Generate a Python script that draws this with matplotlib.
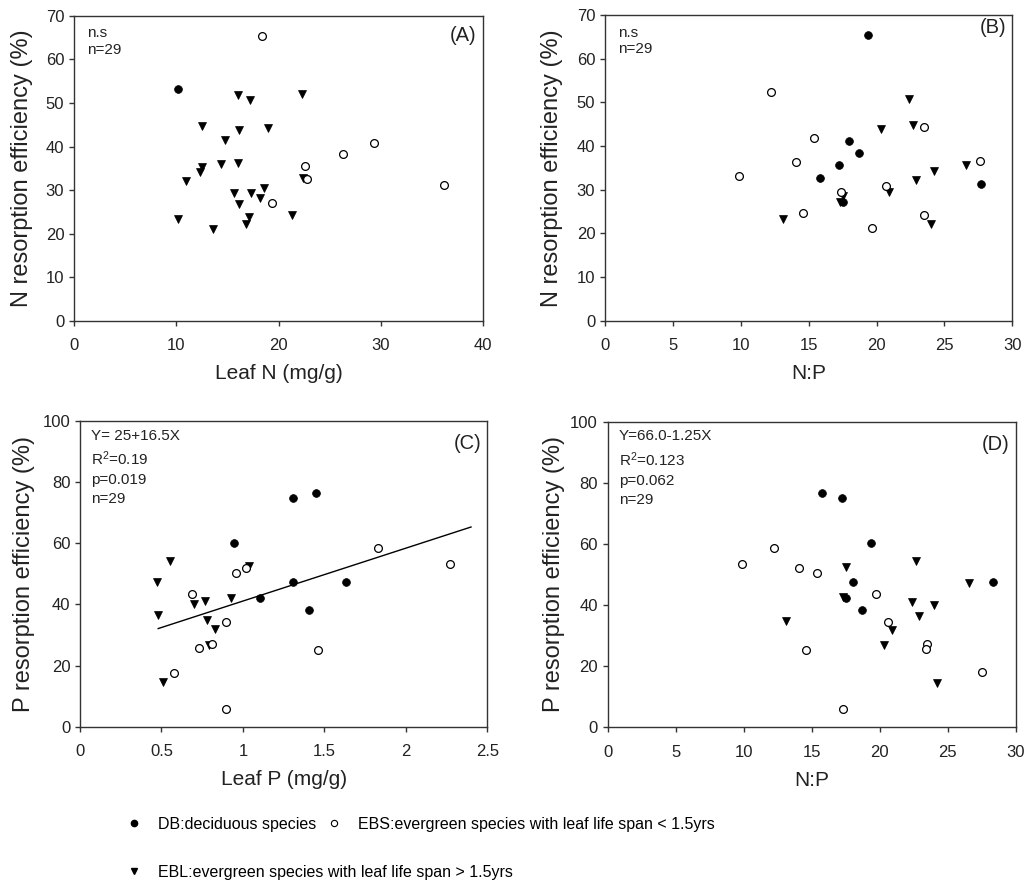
import matplotlib
matplotlib.use("Agg")
import matplotlib.pyplot as plt
import numpy as np
from matplotlib.lines import Line2D

plt.rcParams['font.family'] = ['Liberation Sans', 'DejaVu Sans']
plt.rcParams['mathtext.fontset'] = 'custom'
plt.rcParams['mathtext.rm'] = 'Liberation Sans'
plt.rcParams['mathtext.it'] = 'Liberation Sans:italic'

# ---------------- data ----------------
# Panel A: Leaf N vs N resorption efficiency
A_DB_x = [10.2]
A_DB_y = [53.1]
A_EBS_x = [18.4, 22.6, 22.8, 26.3, 29.3, 36.2, 19.4]
A_EBS_y = [65.4, 35.5, 32.5, 38.3, 40.9, 31.2, 27.0]
A_EBL_x = [16.0, 17.2, 22.3, 12.5, 16.1, 19.0, 14.8, 14.4, 16.0, 12.5, 12.3, 11.0,
           22.4, 15.6, 17.3, 18.6, 18.2, 16.1, 17.1, 16.8, 10.2, 13.6, 21.3]
A_EBL_y = [51.9, 50.6, 52.1, 44.8, 43.9, 44.2, 41.6, 36.0, 36.3, 35.4, 34.2, 32.2,
           32.8, 29.3, 29.4, 30.6, 28.3, 26.8, 23.9, 22.2, 23.3, 21.0, 24.4]

# Panel B: N:P vs N resorption efficiency
B_DB_x = [19.4, 18.0, 18.7, 17.2, 15.8, 17.5, 27.7]
B_DB_y = [65.4, 41.1, 38.4, 35.6, 32.6, 27.1, 31.3]
B_EBS_x = [12.2, 9.9, 14.1, 15.4, 14.6, 17.35, 20.7, 19.7, 23.5, 23.5, 27.6]
B_EBS_y = [52.4, 33.1, 36.3, 41.8, 24.7, 29.4, 30.9, 21.3, 44.4, 24.1, 36.6]
B_EBL_x = [13.1, 17.5, 17.3, 20.3, 20.9, 22.4, 22.7, 22.9, 24.2, 24.0, 26.6]
B_EBL_y = [23.4, 28.5, 27.1, 44.0, 29.5, 50.8, 44.9, 32.3, 34.2, 22.1, 35.6]

# Panel C: Leaf P vs P resorption efficiency
C_DB_x = [1.31, 1.45, 0.947, 1.31, 1.63, 1.106, 1.407]
C_DB_y = [74.8, 76.5, 60.1, 47.3, 47.3, 42.0, 38.2]
C_EBS_x = [1.83, 2.27, 0.957, 1.016, 0.689, 0.898, 0.728, 0.812, 0.579, 1.458, 0.898]
C_EBS_y = [58.5, 53.2, 50.4, 51.8, 43.5, 34.1, 25.9, 27.1, 17.6, 25.1, 5.9]
C_EBL_x = [0.55, 0.47, 0.476, 0.507, 0.70, 0.767, 0.777, 0.826, 0.79, 0.928, 1.039]
C_EBL_y = [54.3, 47.2, 36.7, 14.5, 40.0, 41.1, 34.9, 31.9, 26.8, 42.1, 52.6]
C_fit_x = [0.48, 2.40]
C_fit_intercept = 23.8
C_fit_slope = 17.3

# Panel D: N:P vs P resorption efficiency
D_DB_x = [15.76, 17.23, 19.34, 18.0, 17.5, 18.7, 28.3]
D_DB_y = [76.7, 75.0, 60.2, 47.5, 42.2, 38.4, 47.4]
D_EBS_x = [9.88, 12.2, 14.1, 15.4, 19.7, 20.6, 14.6, 23.5, 23.4, 17.3, 27.5]
D_EBS_y = [53.3, 58.7, 52.0, 50.6, 43.6, 34.4, 25.3, 27.2, 25.6, 6.0, 18.0]
D_EBL_x = [13.1, 17.5, 17.3, 20.3, 20.9, 22.35, 22.65, 22.9, 24.0, 24.2, 26.6]
D_EBL_y = [34.7, 52.6, 42.5, 26.8, 31.8, 41.1, 54.3, 36.5, 39.9, 14.5, 47.2]

legend_labels = ["DB:deciduous species",
                 "EBS:evergreen species with leaf life span < 1.5yrs",
                 "EBL:evergreen species with leaf life span > 1.5yrs"]

# ---------------- figure ----------------
W, H = 1028, 885
fig = plt.figure(figsize=(W / 100, H / 100), dpi=100)

def box(l, t, r, b):
    return [l / W, 1 - b / H, (r - l) / W, (b - t) / H]

axA = fig.add_axes(box(74, 15.7, 483, 321))
axB = fig.add_axes(box(605, 15, 1012.3, 320.7))
axC = fig.add_axes(box(80, 421, 487.3, 726.7))
axD = fig.add_axes(box(607.7, 421.7, 1015.7, 727.3))

ms_c = 5.6
ms_t = 6.2

def scatter_groups(ax, dbx, dby, ebsx, ebsy, eblx, ebly):
    ax.plot(eblx, ebly, linestyle='none', marker='v', ms=ms_t, mfc='black', mec='black', mew=0.5, zorder=3)
    ax.plot(ebsx, ebsy, linestyle='none', marker='o', ms=ms_c, mfc='white', mec='black', mew=0.9, zorder=4)
    ax.plot(dbx, dby, linestyle='none', marker='o', ms=ms_c, mfc='black', mec='black', mew=0.5, zorder=5)

def style(ax, xlim, xticks, ylim, yticks, xlabel, ylabel, ylab_x, xlab_y):
    ax.set_xlim(*xlim)
    ax.set_ylim(*ylim)
    ax.set_xticks(xticks)
    ax.set_yticks(yticks)
    ax.set_xticklabels([('%g' % v) for v in xticks])
    ax.set_yticklabels([('%g' % v) for v in yticks])
    for s in ax.spines.values():
        s.set_linewidth(1.0)
        s.set_color('#333333')
    ax.tick_params(axis='both', direction='out', length=3.5, width=1.0, color='#333333',
                   labelsize=12, labelcolor='#222222')
    ax.tick_params(axis='x', pad=9)
    ax.tick_params(axis='y', pad=3.5)
    ax.set_xlabel(xlabel, fontsize=15, color='#222222')
    ax.set_ylabel(ylabel, fontsize=17, color='#222222')
    ax.yaxis.set_label_coords(ylab_x, 0.5)
    ax.xaxis.set_label_coords(0.5, xlab_y)
    ax.xaxis.label.set_va('top')

scatter_groups(axA, A_DB_x, A_DB_y, A_EBS_x, A_EBS_y, A_EBL_x, A_EBL_y)
style(axA, (0, 40), [0, 10, 20, 30, 40], (0, 70), [0, 10, 20, 30, 40, 50, 60, 70],
      "Leaf N (mg/g)", "N resorption efficiency (%)", -0.100, -0.142)
axA.text(0.032, 0.965, "n.s\nn=29", transform=axA.transAxes, ha='left', va='top',
         fontsize=11, linespacing=1.25, color='#222222')
axA.text(0.985, 0.935, "(A)", transform=axA.transAxes, ha='right', va='center',
         fontsize=14.5, color='#222222')

scatter_groups(axB, B_DB_x, B_DB_y, B_EBS_x, B_EBS_y, B_EBL_x, B_EBL_y)
style(axB, (0, 30), [0, 5, 10, 15, 20, 25, 30], (0, 70), [0, 10, 20, 30, 40, 50, 60, 70],
      "N:P", "N resorption efficiency (%)", -0.103, -0.142)
axB.text(0.032, 0.965, "n.s\nn=29", transform=axB.transAxes, ha='left', va='top',
         fontsize=11, linespacing=1.25, color='#222222')
axB.text(0.985, 0.96, "(B)", transform=axB.transAxes, ha='right', va='center',
         fontsize=14.5, color='#222222')

scatter_groups(axC, C_DB_x, C_DB_y, C_EBS_x, C_EBS_y, C_EBL_x, C_EBL_y)
fit_x = np.array(C_fit_x)
axC.plot(fit_x, C_fit_intercept + C_fit_slope * fit_x, color='black', lw=1.0, zorder=2)
style(axC, (0, 2.5), [0, 0.5, 1, 1.5, 2, 2.5], (0, 100), [0, 20, 40, 60, 80, 100],
      "Leaf P (mg/g)", "P resorption efficiency (%)", -0.11, -0.142)
axC.text(0.027, 0.975, "Y= 25+16.5X\nR$^{\\mathrm{2}}$=0.19\np=0.019\nn=29", transform=axC.transAxes,
         ha='left', va='top', fontsize=11, linespacing=1.45, color='#222222')
axC.text(0.985, 0.925, "(C)", transform=axC.transAxes, ha='right', va='center',
         fontsize=14.5, color='#222222')

scatter_groups(axD, D_DB_x, D_DB_y, D_EBS_x, D_EBS_y, D_EBL_x, D_EBL_y)
style(axD, (0, 30), [0, 5, 10, 15, 20, 25, 30], (0, 100), [0, 20, 40, 60, 80, 100],
      "N:P", "P resorption efficiency (%)", -0.105, -0.142)
axD.text(0.027, 0.975, "Y=66.0-1.25X\nR$^{\\mathrm{2}}$=0.123\np=0.062\nn=29", transform=axD.transAxes,
         ha='left', va='top', fontsize=11, linespacing=1.45, color='#222222')
axD.text(0.985, 0.925, "(D)", transform=axD.transAxes, ha='right', va='center',
         fontsize=14.5, color='#222222')

# ---------------- legend ----------------
h_db = Line2D([], [], linestyle='none', marker='o', ms=4.5, mfc='black', mec='black')
h_ebs = Line2D([], [], linestyle='none', marker='o', ms=4.5, mfc='white', mec='black', mew=0.8)
h_ebl = Line2D([], [], linestyle='none', marker='v', ms=5, mfc='black', mec='black')

leg_fs = 11.5
fs_px = leg_fs * 100 / 72
x0 = (134 - 0.5 * fs_px) / W
fig.legend(handles=[h_db, h_ebs], labels=legend_labels[:2], ncol=2,
           loc='center left', bbox_to_anchor=(x0, 1 - 824 / H),
           frameon=False, fontsize=leg_fs, handlelength=1.0, handletextpad=1.0,
           columnspacing=0.6, borderpad=0, borderaxespad=0)
fig.legend(handles=[h_ebl], labels=[legend_labels[2]], ncol=1,
           loc='center left', bbox_to_anchor=(x0, 1 - 872 / H),
           frameon=False, fontsize=leg_fs, handlelength=1.0, handletextpad=1.0,
           borderpad=0, borderaxespad=0)

fig.savefig("out.png", dpi=100)
